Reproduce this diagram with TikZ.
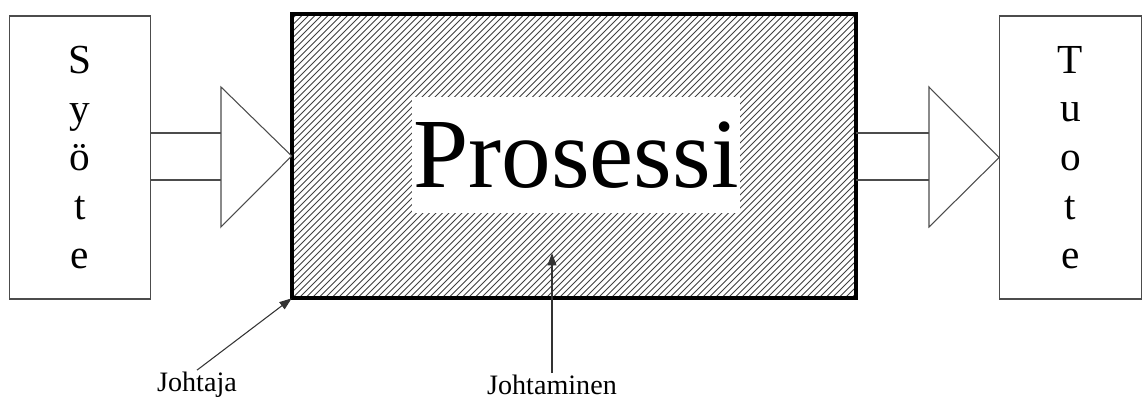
\documentclass[tikz,border=0pt]{standalone}
\usepackage{fontspec}
\setmainfont{Liberation Serif}
\usetikzlibrary{arrows.meta,positioning,calc}

\begin{document}
\begin{tikzpicture}[
  x=0.02cm, y=-0.02cm,
  box/.style={draw=black!70, line width=0.7pt, minimum width=2.83cm, minimum height=5.66cm, align=center, font=\fontsize{23.5}{27.8}\selectfont},
  procbox/.style={minimum width=11.28cm, minimum height=5.68cm, inner sep=0pt},
  lbl/.style={font=\fontsize{16}{18}\selectfont, inner sep=1pt},
  fat/.style={draw=black!70, line width=0.6pt, fill=white},
  arrow/.style={-{Triangle[length=7pt,width=5pt]}, line width=0.6pt, draw=black!80}
]
\useasboundingbox (0,0) rectangle (1144,399);
\node[box] (syote) at (80,157.5) {S\\y\\ö\\t\\e};
\node[box] (tuote) at (1070.5,157.5) {T\\u\\o\\t\\e};
\node[procbox] (prosessi) at (574,156) {};
% hatching
\begin{scope}
  \clip (prosessi.south west) rectangle (prosessi.north east);
  \foreach \x in {0,6.5,...,852}
    \draw[line width=0.45pt, black!75] (\x,298) -- ++(284,-284);
\end{scope}
\node[fill=white, minimum width=6.56cm, minimum height=2.32cm, inner sep=0pt,
  font=\fontsize{56.5}{60}\selectfont] (nimi) at (576,155) {Prosessi};
\draw[line width=2.4pt] (prosessi.south west) rectangle (prosessi.north east);
% input and output arrows
\draw[fat] ($(syote.east)+(0,-24.5)$) -- (221,133) (syote.east |- 0,180) -- (221,180);
\draw[fat] (221,87) -- (prosessi.west) -- (221,227) -- cycle;
\draw[fat] ($(prosessi.east)+(0,-23)$) -- (929,133) (prosessi.east |- 0,180) -- (929,180);
\draw[fat] (929,87) -- (tuote.west) -- (929,227) -- cycle;
% labels
\node[lbl] (johtaja) at (197,385) {Johtaja};
\node[lbl] (johtaminen) at (552,385) {Johtaminen};
\coordinate (kohde) at (552,253);
\draw[arrow] (johtaja.north) -- (prosessi.south west);
\draw[arrow] (johtaminen.north) -- (kohde);
\end{tikzpicture}
\end{document}
